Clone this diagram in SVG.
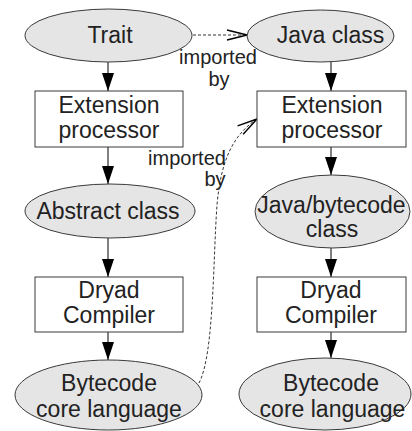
<svg xmlns="http://www.w3.org/2000/svg" width="412" height="431" viewBox="0 0 412 431">
<style>
.bg{fill:#ffffff}
.ell{fill:#e5e5e5;stroke:#3a3a3a;stroke-width:1}
.box{fill:#ffffff;stroke:#3a3a3a;stroke-width:1}
.t{font-family:"Liberation Sans",Arial,sans-serif;font-size:23px;fill:#222;text-anchor:middle}
.lbl{font-family:"Liberation Sans",Arial,sans-serif;font-size:20px;fill:#222;text-anchor:middle}
.solid{fill:none;stroke:#000;stroke-width:1;marker-end:url(#fill)}
.dash{fill:none;stroke:#000;stroke-width:0.8;stroke-dasharray:3 2;marker-end:url(#open)}
</style>
<defs>
<marker id="fill" markerUnits="userSpaceOnUse" markerWidth="20" markerHeight="14" refX="18" refY="6" orient="auto" overflow="visible">
<path d="M0,0 L18,6 L0,12 z" fill="#000"/>
</marker>
<marker id="open" markerUnits="userSpaceOnUse" markerWidth="22" markerHeight="12" refX="20" refY="5" orient="auto" overflow="visible">
<path d="M0,0 L20,5 L0,10" fill="none" stroke="#000" stroke-width="1.4"/>
</marker>
</defs>
<rect class="bg" x="0" y="0" width="412" height="431"/>
<g id="connectors">
<line class="solid" x1="108" y1="62" x2="108" y2="91"/>
<line class="solid" x1="108" y1="147" x2="108" y2="184"/>
<line class="solid" x1="108" y1="238" x2="108" y2="277"/>
<line class="solid" x1="108" y1="332" x2="108" y2="360"/>
<line class="solid" x1="331" y1="62" x2="331" y2="91"/>
<line class="solid" x1="331" y1="147" x2="331" y2="175"/>
<line class="solid" x1="331" y1="248" x2="331" y2="277"/>
<line class="solid" x1="331" y1="332" x2="331" y2="358"/>
<line class="dash" x1="193" y1="35" x2="247" y2="35"/>
<path class="dash" d="M199,383 C214,355 213,260 217,205 C221,160 233,135 257,119"/>
<text class="lbl" x="218" y="64">imported</text>
<text class="lbl" x="219" y="86">by</text>
<text class="lbl" x="187" y="165">imported</text>
<text class="lbl" x="215" y="186">by</text>
</g>
<g id="trait">
<ellipse class="ell" cx="108.5" cy="35.5" rx="83.5" ry="26.5"/>
<text class="t" x="110" y="43">Trait</text>
</g>
<g id="java-class">
<ellipse class="ell" cx="320.5" cy="36" rx="73.5" ry="26"/>
<text class="t" x="330.5" y="43">Java class</text>
</g>
<g id="ext-proc-left">
<rect class="box" x="35" y="91" width="148" height="56"/>
<text class="t" x="109" y="113">Extension</text>
<text class="t" x="109" y="138">processor</text>
</g>
<g id="ext-proc-right">
<rect class="box" x="257" y="91" width="149" height="56"/>
<text class="t" x="332" y="113">Extension</text>
<text class="t" x="332" y="138">processor</text>
</g>
<g id="abstract-class">
<ellipse class="ell" cx="110" cy="211" rx="85" ry="27"/>
<text class="t" x="108" y="219">Abstract class</text>
</g>
<g id="java-bytecode-class">
<ellipse class="ell" cx="332.5" cy="211.5" rx="77.5" ry="36.5"/>
<text class="t" x="331.5" y="213">Java/bytecode</text>
<text class="t" x="332" y="237">class</text>
</g>
<g id="dryad-left">
<rect class="box" x="35" y="277" width="148" height="55"/>
<text class="t" x="109" y="298">Dryad</text>
<text class="t" x="109" y="323">Compiler</text>
</g>
<g id="dryad-right">
<rect class="box" x="257" y="277" width="149" height="55"/>
<text class="t" x="331" y="298">Dryad</text>
<text class="t" x="331" y="323">Compiler</text>
</g>
<g id="bytecode-left">
<ellipse class="ell" cx="108.5" cy="395" rx="93.5" ry="35"/>
<text class="t" x="109" y="391">Bytecode</text>
<text class="t" x="109" y="417">core language</text>
</g>
<g id="bytecode-right">
<ellipse class="ell" cx="325" cy="394" rx="86" ry="36"/>
<text class="t" x="331" y="391">Bytecode</text>
<text class="t" x="332.5" y="417">core language</text>
</g>
</svg>
